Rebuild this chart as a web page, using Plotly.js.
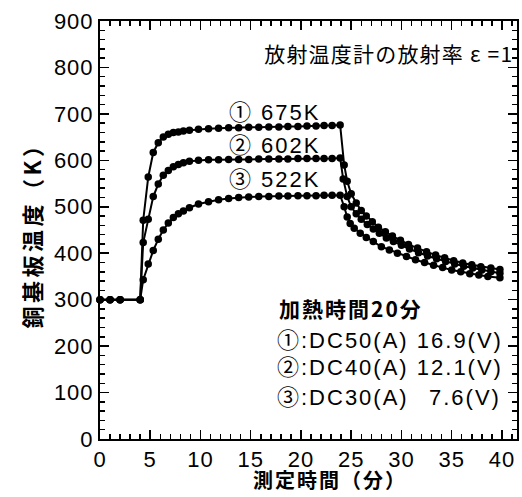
<!DOCTYPE html>
<html>
<head>
<meta charset="utf-8">
<script src="https://cdn.plot.ly/plotly-3.0.1.min.js"></script>
<style>
  html, body { margin: 0; padding: 0; background: #fff; }
  #chart { width: 522px; height: 497px; }
  .annotation-text { letter-spacing: 2px; }
  g.annotation[data-index="0"] .annotation-text { letter-spacing: 1.2px; }
  .ytitle { letter-spacing: 3.5px; }
  .xtick text, .ytick text { letter-spacing: 1px; }
</style>
</head>
<body>
<div id="chart"></div>
<script>
// ---- data (minutes, Kelvin) ----
const time1 = [0, 1, 2, 4, 4.3, 4.8, 5.3, 5.8, 6.3, 6.8, 7.3, 7.8, 8.3, 8.9, 9.8, 10.8, 11.8, 12.8, 13.8, 14.8, 15.8, 16.8, 17.8, 18.7, 19.7, 20.6, 21.5, 22.3, 23.1, 23.9,
  24.3, 24.6, 25.0, 25.5, 26.0, 26.5, 27.1, 27.7, 28.4, 29.1, 29.9, 30.7, 31.6, 32.5, 33.4, 34.3, 35.2, 36.1, 37.0, 37.9, 38.9, 39.8];
const temp1 = [300, 300, 300, 300, 471, 564, 617, 638, 650, 656, 660, 661, 663, 665, 667, 668, 669, 670, 670, 671, 671, 672, 672, 673, 673, 674, 674, 675, 675, 676,
  590, 555, 528, 508, 492, 480, 468, 456, 446, 437, 428, 419, 411, 403, 396, 390, 384, 379, 375, 371, 368, 365];

const time2 = [0, 1, 2, 4, 4.3, 4.8, 5.3, 5.8, 6.3, 6.8, 7.3, 7.8, 8.3, 8.9, 9.8, 10.8, 11.8, 12.8, 13.8, 14.8, 15.8, 16.8, 17.8, 18.7, 19.7, 20.6, 21.5, 22.3, 23.1, 23.9,
  24.2, 24.6, 25.0, 25.5, 26.0, 26.6, 27.2, 27.8, 28.5, 29.2, 30.0, 30.8, 31.7, 32.6, 33.5, 34.4, 35.3, 36.2, 37.1, 38.0, 38.9, 39.8];
const temp2 = [300, 300, 300, 300, 423, 473, 522, 549, 568, 578, 586, 591, 595, 598, 600, 601, 601, 602, 602, 602, 603, 603, 603, 603, 604, 604, 604, 604, 604, 605,
  560, 522, 500, 485, 473, 462, 452, 443, 433, 425, 417, 409, 401, 394, 388, 382, 377, 372, 368, 364, 360, 357];

const time3 = [0, 1, 2, 4, 4.3, 4.8, 5.3, 5.8, 6.3, 6.8, 7.3, 7.8, 8.3, 8.9, 9.8, 10.8, 11.8, 12.8, 13.8, 14.8, 15.8, 16.8, 17.8, 18.7, 19.7, 20.6, 21.5, 22.3, 23.1, 23.9,
  24.3, 24.6, 24.9, 25.3, 25.9, 26.5, 27.2, 28.0, 28.8, 29.6, 30.5, 31.4, 32.3, 33.2, 34.1, 35.0, 35.9, 36.8, 37.7, 38.6, 39.8];
const temp3 = [300, 300, 300, 300, 343, 377, 406, 430, 450, 465, 477, 485, 491, 498, 506, 511, 515, 518, 520, 521, 522, 522, 523, 523, 524, 524, 524, 525, 525, 525,
  500, 478, 464, 454, 443, 434, 425, 414, 407, 400, 393, 386, 380, 374, 369, 364, 360, 356, 353, 350, 347];

const seriesLabels = ["① 675K", "② 602K", "③ 522K"];
const conditionTitle = "加熱時間20分";
const conditionLines = ["①:DC50(A) 16.9(V)", "②:DC40(A) 12.1(V)", "③:DC30(A)", "7.6(V)"];
const noteText = "放射温度計の放射率 ε =1";
const xTitle = "測定時間（分）";
const yTitle = "銅基板温度（K）";

const FONT = "'Liberation Sans', Arial, 'Noto Sans CJK JP', sans-serif";
const CJK = "'Noto Sans CJK JP', 'Liberation Sans', sans-serif";

function series(x, y, name) {
  return {
    x: x, y: y, name: name, type: 'scatter', mode: 'lines+markers',
    line: { color: '#000', width: 2 },
    marker: { color: '#000', size: 7.5 },
    cliponaxis: false, showlegend: false, hoverinfo: 'skip'
  };
}

const traces = [
  series(time1, temp1, seriesLabels[0]),
  series(time2, temp2, seriesLabels[1]),
  series(time3, temp3, seriesLabels[2])
];

const ann = [];
ann.push({ x: 41.3, y: 831, xref: 'x', yref: 'y', text: noteText, showarrow: false,
  xanchor: 'right', align: 'right', yanchor: 'middle', font: { family: CJK, size: 21, color: '#000' } });
const labelY = [704, 631, 558];
seriesLabels.forEach((s, i) => ann.push({ x: 12.6, y: labelY[i], xref: 'x', yref: 'y', text: s, showarrow: false,
  xanchor: 'left', align: 'left', yanchor: 'middle', font: { family: FONT, size: 22, color: '#000' } }));
ann.push({ x: 17.6, y: 283, xref: 'x', yref: 'y', text: conditionTitle, showarrow: false,
  xanchor: 'left', align: 'left', yanchor: 'middle', font: { family: CJK, size: 21, color: '#000', weight: 'bold' } });
const condY = [213, 153, 90];
for (let i = 0; i < 3; i++) {
  ann.push({ x: 17.4, y: condY[i], xref: 'x', yref: 'y', text: conditionLines[i], showarrow: false,
    xanchor: 'left', align: 'left', yanchor: 'middle', font: { family: FONT, size: 22, color: '#000' } });
}
ann.push({ x: 40.1, y: condY[2], xref: 'x', yref: 'y', text: conditionLines[3], showarrow: false,
  xanchor: 'right', align: 'right', yanchor: 'middle', font: { family: FONT, size: 22, color: '#000' } });
// x axis title, placed as in the reference
ann.push({ x: 0.362, y: -0.098, xref: 'paper', yref: 'paper', text: xTitle, showarrow: false,
  xanchor: 'left', align: 'left', yanchor: 'middle', font: { family: CJK, size: 20, color: '#000', weight: 'bold' } });

const axisCommon = {
  showline: true, linecolor: '#000', linewidth: 2, mirror: 'allticks',
  ticks: 'inside', ticklen: 9, tickwidth: 1.5, tickcolor: '#000',
  showgrid: false, zeroline: false,
  tickfont: { family: FONT, size: 22, color: '#000' }
};

const layout = {
  width: 522, height: 497,
  margin: { l: 100, r: 5, t: 21, b: 58 },
  showlegend: false,
  xaxis: Object.assign({}, axisCommon, {
    range: [0, 41.5], dtick: 5,
    minor: { dtick: 1, ticks: 'inside', ticklen: 5 }
  }),
  yaxis: Object.assign({}, axisCommon, {
    range: [0, 900], dtick: 100,
    minor: { dtick: 20, ticks: 'inside', ticklen: 5 },
    title: { text: yTitle, font: { family: CJK, size: 22, color: '#000', weight: 'bold' }, standoff: 6 }
  }),
  annotations: ann
};

// Plotly draws the tick marks, but in this setup something paints over them;
// copy Plotly's own tick paths to the topmost svg layer so they stay visible.
function raiseTicks(gd) {
  const svgs = gd.querySelectorAll('svg.main-svg');
  const top = svgs[svgs.length - 1];
  const g = document.createElementNS('http://www.w3.org/2000/svg', 'g');
  g.setAttribute('class', 'raised-ticks');
  gd.querySelectorAll('path.xtick, path.ytick, path.xtick2, path.ytick2').forEach(p => {
    const c = p.cloneNode(true);
    c.removeAttribute('clip-path');
    g.appendChild(c);
  });
  top.appendChild(g);
}

Plotly.newPlot('chart', traces, layout, { staticPlot: true, displayModeBar: false }).then(raiseTicks);
</script>
</body>
</html>
